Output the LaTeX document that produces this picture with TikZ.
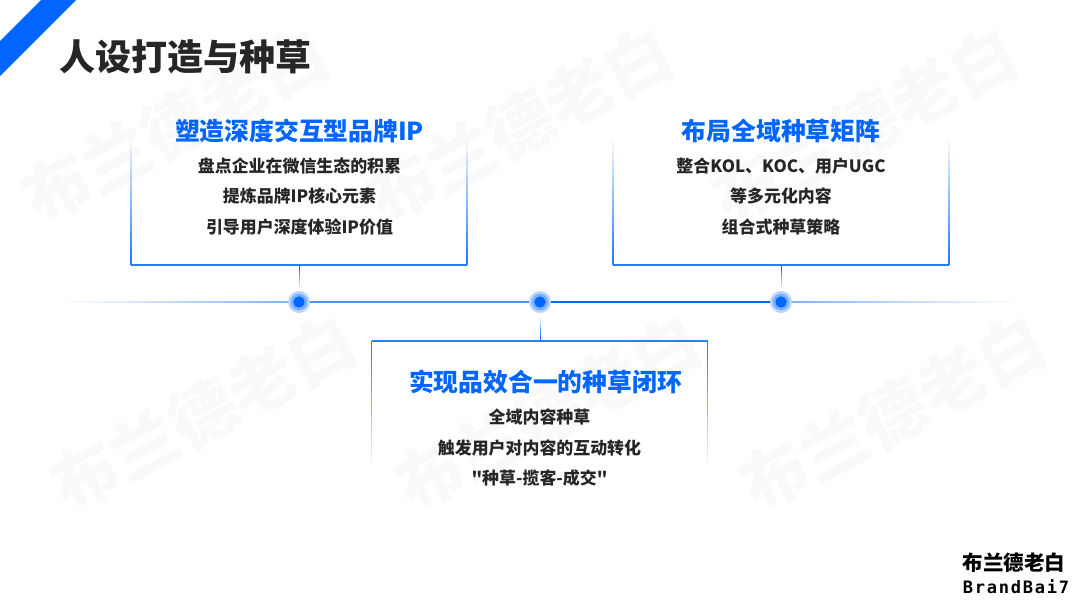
\documentclass[tikz,border=0pt]{standalone}
\usepackage{fontspec}
\usepackage{tikz}
\usetikzlibrary{calc}
\usetikzlibrary{positioning}
\usetikzlibrary{fadings}

\newfontfamily\cjk{Noto Sans CJK SC}
\newfontfamily\logofont[LetterSpace=10]{DejaVu Sans Mono}
\definecolor{mainblue}{HTML}{0066FF}
\definecolor{inkgray}{HTML}{262626}
\definecolor{markgray}{HTML}{F9F9F9}

\tikzset{
  x=0.75pt,y=-0.75pt,
  every node/.style={inner sep=0pt,outer sep=0pt,font=\cjk\bfseries},
  titletext/.style={font=\cjk\bfseries\fontsize{27}{27}\selectfont,text=inkgray,anchor=west},
  headtext/.style={font=\cjk\bfseries\fontsize{18.6}{18.6}\selectfont,text=mainblue},
  bodytext/.style={font=\cjk\bfseries\fontsize{12.7}{12.7}\selectfont,text=inkgray},
  watermark/.style={font=\cjk\bfseries\fontsize{50}{50}\selectfont,text=markgray,rotate=28},
  panel/.style={minimum width=252pt,minimum height=102.75pt},
  edge line/.style={draw=mainblue!85,line width=0.8pt},
  fade line/.style n args={3}{path fading=#1,fit fading=false,fading transform={shift={(#2)},scale=#3}},
  stem line/.style={draw=mainblue,line width=0.7pt},
  axis line/.style={draw=mainblue,line width=1pt},
  soft line/.style={draw=mainblue!50,line width=1.2pt},
  ringouter/.style={circle,fill=mainblue!28,minimum size=16.5pt},
  ringinner/.style={circle,fill=mainblue!52,minimum size=12.5pt},
  dotcore/.style={circle,fill=mainblue,minimum size=8.5pt},
}

\begin{document}
\begin{tikzpicture}

\useasboundingbox (0,0) rectangle (1080,608);

% faint marks behind everything
\foreach \mx/\my in {175/125,520/125,865/125,203/413,548/413,893/413}
  \node[watermark] at (\mx,\my) {布兰德老白};

% corner band
\fill[mainblue] (41,0) -- (76,0) -- (0,76) -- (0,41) -- cycle;

\node[titletext] (title) at (59,57) {人设打造与种草};

% the three dots
\foreach \n/\px in {a/299,b/540,c/781} {
  \node[ringouter] (ring\n) at (\px,302) {};
  \node[ringinner] at (ring\n) {};
  \node[dotcore] (dot\n) at (ring\n) {};
}

\coordinate (axisleft) at (60,302);
\coordinate (axisright) at (1020,302);
\coordinate (axismidl) at ($(axisleft)!0.5!(ringa.west)$);
\coordinate (axismidr) at ($(axisright)!0.5!(ringc.east)$);
\draw[soft line,fade line={west}{axismidl}{3.4}] (axisleft) -- (ringa.west);
\draw[axis line,draw=mainblue!70] (ringa.east) -- (ringb.west);
\draw[axis line] (ringb.east) -- (ringc.west);
\draw[soft line,fade line={east}{axismidr}{3.4}] (ringc.east) -- (axisright);

% panels
\node[panel] (boxa) at (299,196.5) {};
\node[panel] (boxc) at (781,196.5) {};
\node[panel,minimum height=103.5pt] (boxb) at (539.5,410) {};

\draw[edge line] (boxa.south west) -- (boxa.south east);
\draw[edge line,fade line={north}{boxa.west}{1.8}] (boxa.south west) -- (boxa.north west);
\draw[edge line,fade line={north}{boxa.east}{1.8}] (boxa.south east) -- (boxa.north east);

\draw[edge line] (boxc.south west) -- (boxc.south east);
\draw[edge line,fade line={north}{boxc.west}{1.8}] (boxc.south west) -- (boxc.north west);
\draw[edge line,fade line={north}{boxc.east}{1.8}] (boxc.south east) -- (boxc.north east);

\draw[edge line] (boxb.north west) -- (boxb.north east);
\draw[edge line,fade line={south}{boxb.west}{1.8}] (boxb.north west) -- (boxb.south west);
\draw[edge line,fade line={south}{boxb.east}{1.8}] (boxb.north east) -- (boxb.south east);

\coordinate (stema) at ($(boxa.south)!0.5!(ringa.north)$);
\coordinate (stemc) at ($(boxc.south)!0.5!(ringc.north)$);
\coordinate (stemb) at ($(boxb.north -| ringb.south)!0.5!(ringb.south)$);
\draw[stem line,fade line={south}{stema}{0.34}] (boxa.south) -- (ringa.north);
\draw[stem line,fade line={south}{stemc}{0.34}] (boxc.south) -- (ringc.north);
\draw[stem line,fade line={north}{stemb}{0.34}] (boxb.north -| ringb.south) -- (ringb.south);

% panel texts
\node[headtext] (heada) at (299.5,131) {塑造深度交互型品牌IP};
\node[bodytext,below=26pt of heada.center,anchor=center] (linea1) {盘点企业在微信生态的积累};
\node[bodytext,below=23pt of linea1.center,anchor=center] (linea2) {提炼品牌IP核心元素};
\node[bodytext,below=23pt of linea2.center,anchor=center] (linea3) {引导用户深度体验IP价值};

\node[headtext] (headc) at (781,131) {布局全域种草矩阵};
\node[bodytext,below=26pt of headc.center,anchor=center] (linec1) {整合KOL、KOC、用户UGC};
\node[bodytext,below=23pt of linec1.center,anchor=center] (linec2) {等多元化内容};
\node[bodytext,below=23pt of linec2.center,anchor=center] (linec3) {组合式种草策略};

\node[headtext] (headb) at (545.5,382) {实现品效合一的种草闭环};
\node[bodytext] (lineb1) at (539.5,417) {全域内容种草};
\node[bodytext,below=23pt of lineb1.center,anchor=center] (lineb2) {触发用户对内容的互动转化};
\node[bodytext,below=23pt of lineb2.center,anchor=center] (lineb3) {"种草-揽客-成交"};

% logo
\node[font=\cjk\bfseries\fontsize{15.4}{15.4}\selectfont,text=black] (logoa) at (1014,563) {布兰德老白};
\node[font=\logofont\bfseries\fontsize{12.8}{12.8}\selectfont,text=black] (logob) at (1016,587) {BrandBai7};

\end{tikzpicture}
\end{document}
